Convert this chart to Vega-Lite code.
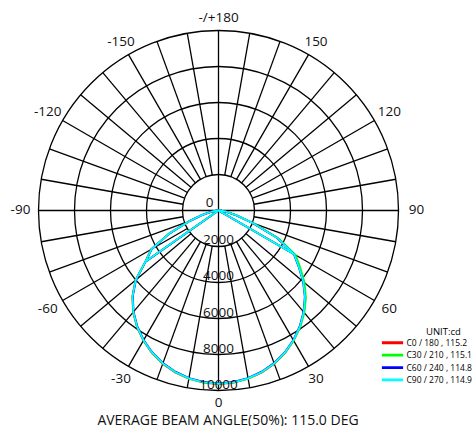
{
  "$schema": "https://vega.github.io/schema/vega-lite/v6.json",
  "width": 474,
  "height": 426,
  "padding": 0,
  "autosize": {"type": "none"},
  "config": {"view": {"stroke": null}, "font": "Open Sans"},
  "title": {"text": "AVERAGE BEAM ANGLE(50%): 115.0 DEG", "orient": "bottom", "anchor": "middle", "frame": "group", "offset": -12, "fontSize": 14, "fontWeight": "normal", "color": "#111", "font": "Open Sans", "dx": -9},
  "datasets": {
    "curves": [
      {"s":"C0 / 180 , 115.2","o":0,"g":-55,"i":4970},{"s":"C0 / 180 , 115.2","o":1,"g":-90,"i":0},{"s":"C0 / 180 , 115.2","o":2,"g":-85,"i":160},{"s":"C0 / 180 , 115.2","o":3,"g":-80,"i":410},{"s":"C0 / 180 , 115.2","o":4,"g":-75,"i":920},{"s":"C0 / 180 , 115.2","o":5,"g":-70,"i":1720},{"s":"C0 / 180 , 115.2","o":6,"g":-65,"i":3030},{"s":"C0 / 180 , 115.2","o":7,"g":-60,"i":4320},{"s":"C0 / 180 , 115.2","o":8,"g":-55,"i":4970},{"s":"C0 / 180 , 115.2","o":9,"g":-50,"i":6020},{"s":"C0 / 180 , 115.2","o":10,"g":-45,"i":6770},{"s":"C0 / 180 , 115.2","o":11,"g":-40,"i":7380},{"s":"C0 / 180 , 115.2","o":12,"g":-35,"i":7900},{"s":"C0 / 180 , 115.2","o":13,"g":-30,"i":8350},{"s":"C0 / 180 , 115.2","o":14,"g":-25,"i":8740},{"s":"C0 / 180 , 115.2","o":15,"g":-20,"i":9060},{"s":"C0 / 180 , 115.2","o":16,"g":-15,"i":9310},{"s":"C0 / 180 , 115.2","o":17,"g":-10,"i":9490},{"s":"C0 / 180 , 115.2","o":18,"g":-5,"i":9600},{"s":"C0 / 180 , 115.2","o":19,"g":0,"i":9640},{"s":"C0 / 180 , 115.2","o":20,"g":5,"i":9600},{"s":"C0 / 180 , 115.2","o":21,"g":10,"i":9490},{"s":"C0 / 180 , 115.2","o":22,"g":15,"i":9310},{"s":"C0 / 180 , 115.2","o":23,"g":20,"i":9060},{"s":"C0 / 180 , 115.2","o":24,"g":25,"i":8740},{"s":"C0 / 180 , 115.2","o":25,"g":30,"i":8350},{"s":"C0 / 180 , 115.2","o":26,"g":35,"i":7900},{"s":"C0 / 180 , 115.2","o":27,"g":40,"i":7390},{"s":"C0 / 180 , 115.2","o":28,"g":45,"i":6820},{"s":"C0 / 180 , 115.2","o":29,"g":50,"i":6170},{"s":"C0 / 180 , 115.2","o":30,"g":55,"i":5470},{"s":"C0 / 180 , 115.2","o":31,"g":60,"i":4870},{"s":"C0 / 180 , 115.2","o":32,"g":65,"i":3620},{"s":"C0 / 180 , 115.2","o":33,"g":70,"i":2020},{"s":"C0 / 180 , 115.2","o":34,"g":75,"i":1010},{"s":"C0 / 180 , 115.2","o":35,"g":80,"i":460},{"s":"C0 / 180 , 115.2","o":36,"g":85,"i":160},{"s":"C0 / 180 , 115.2","o":37,"g":90,"i":0},{"s":"C0 / 180 , 115.2","o":38,"g":60,"i":4870},
      {"s":"C30 / 210 , 115.1","o":0,"g":-55,"i":4960},{"s":"C30 / 210 , 115.1","o":1,"g":-90,"i":0},{"s":"C30 / 210 , 115.1","o":2,"g":-85,"i":150},{"s":"C30 / 210 , 115.1","o":3,"g":-80,"i":400},{"s":"C30 / 210 , 115.1","o":4,"g":-75,"i":910},{"s":"C30 / 210 , 115.1","o":5,"g":-70,"i":1710},{"s":"C30 / 210 , 115.1","o":6,"g":-65,"i":3010},{"s":"C30 / 210 , 115.1","o":7,"g":-60,"i":4310},{"s":"C30 / 210 , 115.1","o":8,"g":-55,"i":4960},{"s":"C30 / 210 , 115.1","o":9,"g":-50,"i":6010},{"s":"C30 / 210 , 115.1","o":10,"g":-45,"i":6760},{"s":"C30 / 210 , 115.1","o":11,"g":-40,"i":7370},{"s":"C30 / 210 , 115.1","o":12,"g":-35,"i":7890},{"s":"C30 / 210 , 115.1","o":13,"g":-30,"i":8340},{"s":"C30 / 210 , 115.1","o":14,"g":-25,"i":8730},{"s":"C30 / 210 , 115.1","o":15,"g":-20,"i":9050},{"s":"C30 / 210 , 115.1","o":16,"g":-15,"i":9300},{"s":"C30 / 210 , 115.1","o":17,"g":-10,"i":9480},{"s":"C30 / 210 , 115.1","o":18,"g":-5,"i":9590},{"s":"C30 / 210 , 115.1","o":19,"g":0,"i":9630},{"s":"C30 / 210 , 115.1","o":20,"g":5,"i":9590},{"s":"C30 / 210 , 115.1","o":21,"g":10,"i":9480},{"s":"C30 / 210 , 115.1","o":22,"g":15,"i":9300},{"s":"C30 / 210 , 115.1","o":23,"g":20,"i":9050},{"s":"C30 / 210 , 115.1","o":24,"g":25,"i":8730},{"s":"C30 / 210 , 115.1","o":25,"g":30,"i":8350},{"s":"C30 / 210 , 115.1","o":26,"g":35,"i":7910},{"s":"C30 / 210 , 115.1","o":27,"g":40,"i":7420},{"s":"C30 / 210 , 115.1","o":28,"g":45,"i":6870},{"s":"C30 / 210 , 115.1","o":29,"g":50,"i":6240},{"s":"C30 / 210 , 115.1","o":30,"g":55,"i":5550},{"s":"C30 / 210 , 115.1","o":31,"g":60,"i":4950},{"s":"C30 / 210 , 115.1","o":32,"g":65,"i":3700},{"s":"C30 / 210 , 115.1","o":33,"g":70,"i":2080},{"s":"C30 / 210 , 115.1","o":34,"g":75,"i":1040},{"s":"C30 / 210 , 115.1","o":35,"g":80,"i":470},{"s":"C30 / 210 , 115.1","o":36,"g":85,"i":160},{"s":"C30 / 210 , 115.1","o":37,"g":90,"i":0},{"s":"C30 / 210 , 115.1","o":38,"g":60,"i":4950},
      {"s":"C60 / 240 , 114.8","o":0,"g":-55,"i":4930},{"s":"C60 / 240 , 114.8","o":1,"g":-90,"i":0},{"s":"C60 / 240 , 114.8","o":2,"g":-85,"i":140},{"s":"C60 / 240 , 114.8","o":3,"g":-80,"i":390},{"s":"C60 / 240 , 114.8","o":4,"g":-75,"i":890},{"s":"C60 / 240 , 114.8","o":5,"g":-70,"i":1680},{"s":"C60 / 240 , 114.8","o":6,"g":-65,"i":2980},{"s":"C60 / 240 , 114.8","o":7,"g":-60,"i":4280},{"s":"C60 / 240 , 114.8","o":8,"g":-55,"i":4930},{"s":"C60 / 240 , 114.8","o":9,"g":-50,"i":5980},{"s":"C60 / 240 , 114.8","o":10,"g":-45,"i":6730},{"s":"C60 / 240 , 114.8","o":11,"g":-40,"i":7340},{"s":"C60 / 240 , 114.8","o":12,"g":-35,"i":7860},{"s":"C60 / 240 , 114.8","o":13,"g":-30,"i":8310},{"s":"C60 / 240 , 114.8","o":14,"g":-25,"i":8700},{"s":"C60 / 240 , 114.8","o":15,"g":-20,"i":9020},{"s":"C60 / 240 , 114.8","o":16,"g":-15,"i":9270},{"s":"C60 / 240 , 114.8","o":17,"g":-10,"i":9450},{"s":"C60 / 240 , 114.8","o":18,"g":-5,"i":9560},{"s":"C60 / 240 , 114.8","o":19,"g":0,"i":9600},{"s":"C60 / 240 , 114.8","o":20,"g":5,"i":9560},{"s":"C60 / 240 , 114.8","o":21,"g":10,"i":9450},{"s":"C60 / 240 , 114.8","o":22,"g":15,"i":9270},{"s":"C60 / 240 , 114.8","o":23,"g":20,"i":9020},{"s":"C60 / 240 , 114.8","o":24,"g":25,"i":8700},{"s":"C60 / 240 , 114.8","o":25,"g":30,"i":8310},{"s":"C60 / 240 , 114.8","o":26,"g":35,"i":7860},{"s":"C60 / 240 , 114.8","o":27,"g":40,"i":7350},{"s":"C60 / 240 , 114.8","o":28,"g":45,"i":6780},{"s":"C60 / 240 , 114.8","o":29,"g":50,"i":6130},{"s":"C60 / 240 , 114.8","o":30,"g":55,"i":5430},{"s":"C60 / 240 , 114.8","o":31,"g":60,"i":4830},{"s":"C60 / 240 , 114.8","o":32,"g":65,"i":3580},{"s":"C60 / 240 , 114.8","o":33,"g":70,"i":1980},{"s":"C60 / 240 , 114.8","o":34,"g":75,"i":990},{"s":"C60 / 240 , 114.8","o":35,"g":80,"i":440},{"s":"C60 / 240 , 114.8","o":36,"g":85,"i":140},{"s":"C60 / 240 , 114.8","o":37,"g":90,"i":0},{"s":"C60 / 240 , 114.8","o":38,"g":60,"i":4830},
      {"s":"C90 / 270 , 114.9","o":0,"g":-55,"i":4950},{"s":"C90 / 270 , 114.9","o":1,"g":-90,"i":0},{"s":"C90 / 270 , 114.9","o":2,"g":-85,"i":150},{"s":"C90 / 270 , 114.9","o":3,"g":-80,"i":400},{"s":"C90 / 270 , 114.9","o":4,"g":-75,"i":900},{"s":"C90 / 270 , 114.9","o":5,"g":-70,"i":1700},{"s":"C90 / 270 , 114.9","o":6,"g":-65,"i":3000},{"s":"C90 / 270 , 114.9","o":7,"g":-60,"i":4300},{"s":"C90 / 270 , 114.9","o":8,"g":-55,"i":4950},{"s":"C90 / 270 , 114.9","o":9,"g":-50,"i":6000},{"s":"C90 / 270 , 114.9","o":10,"g":-45,"i":6750},{"s":"C90 / 270 , 114.9","o":11,"g":-40,"i":7360},{"s":"C90 / 270 , 114.9","o":12,"g":-35,"i":7880},{"s":"C90 / 270 , 114.9","o":13,"g":-30,"i":8330},{"s":"C90 / 270 , 114.9","o":14,"g":-25,"i":8720},{"s":"C90 / 270 , 114.9","o":15,"g":-20,"i":9040},{"s":"C90 / 270 , 114.9","o":16,"g":-15,"i":9290},{"s":"C90 / 270 , 114.9","o":17,"g":-10,"i":9470},{"s":"C90 / 270 , 114.9","o":18,"g":-5,"i":9580},{"s":"C90 / 270 , 114.9","o":19,"g":0,"i":9620},{"s":"C90 / 270 , 114.9","o":20,"g":5,"i":9580},{"s":"C90 / 270 , 114.9","o":21,"g":10,"i":9470},{"s":"C90 / 270 , 114.9","o":22,"g":15,"i":9290},{"s":"C90 / 270 , 114.9","o":23,"g":20,"i":9040},{"s":"C90 / 270 , 114.9","o":24,"g":25,"i":8720},{"s":"C90 / 270 , 114.9","o":25,"g":30,"i":8330},{"s":"C90 / 270 , 114.9","o":26,"g":35,"i":7880},{"s":"C90 / 270 , 114.9","o":27,"g":40,"i":7370},{"s":"C90 / 270 , 114.9","o":28,"g":45,"i":6800},{"s":"C90 / 270 , 114.9","o":29,"g":50,"i":6150},{"s":"C90 / 270 , 114.9","o":30,"g":55,"i":5450},{"s":"C90 / 270 , 114.9","o":31,"g":60,"i":4850},{"s":"C90 / 270 , 114.9","o":32,"g":65,"i":3600},{"s":"C90 / 270 , 114.9","o":33,"g":70,"i":2000},{"s":"C90 / 270 , 114.9","o":34,"g":75,"i":1000},{"s":"C90 / 270 , 114.9","o":35,"g":80,"i":450},{"s":"C90 / 270 , 114.9","o":36,"g":85,"i":150},{"s":"C90 / 270 , 114.9","o":37,"g":90,"i":0},{"s":"C90 / 270 , 114.9","o":38,"g":60,"i":4850}
    ],
    "rings": [{"r":2000},{"r":4000},{"r":6000},{"r":8000},{"r":10000}],
    "spokes": [
      {"a":0,"r0":0,"r1":10000},{"a":10,"r0":2000,"r1":10000},{"a":20,"r0":2000,"r1":10000},{"a":30,"r0":2000,"r1":10000},{"a":40,"r0":2000,"r1":10000},{"a":50,"r0":2000,"r1":10000},{"a":60,"r0":2000,"r1":10000},{"a":70,"r0":2000,"r1":10000},{"a":80,"r0":2000,"r1":10000},
      {"a":90,"r0":0,"r1":10000},{"a":100,"r0":2000,"r1":10000},{"a":110,"r0":2000,"r1":10000},{"a":120,"r0":2000,"r1":10000},{"a":130,"r0":2000,"r1":10000},{"a":140,"r0":2000,"r1":10000},{"a":150,"r0":2000,"r1":10000},{"a":160,"r0":2000,"r1":10000},{"a":170,"r0":2000,"r1":10000},
      {"a":180,"r0":0,"r1":10000},{"a":190,"r0":2000,"r1":10000},{"a":200,"r0":2000,"r1":10000},{"a":210,"r0":2000,"r1":10000},{"a":220,"r0":2000,"r1":10000},{"a":230,"r0":2000,"r1":10000},{"a":240,"r0":2000,"r1":10000},{"a":250,"r0":2000,"r1":10000},{"a":260,"r0":2000,"r1":10000},
      {"a":270,"r0":0,"r1":10000},{"a":280,"r0":2000,"r1":10000},{"a":290,"r0":2000,"r1":10000},{"a":300,"r0":2000,"r1":10000},{"a":310,"r0":2000,"r1":10000},{"a":320,"r0":2000,"r1":10000},{"a":330,"r0":2000,"r1":10000},{"a":340,"r0":2000,"r1":10000},{"a":350,"r0":2000,"r1":10000}
    ],
    "angleLabels": [
      {"a":0,"t":"0"},{"a":30,"t":"30"},{"a":60,"t":"60"},{"a":90,"t":"90"},{"a":120,"t":"120"},{"a":150,"t":"150"},{"a":180,"t":"-/+180"},{"a":-150,"t":"-150"},{"a":-120,"t":"-120"},{"a":-90,"t":"-90"},{"a":-60,"t":"-60"},{"a":-30,"t":"-30"}
    ],
    "ringLabels": [{"v":2000,"t":"2000"},{"v":4000,"t":"4000"},{"v":6000,"t":"6000"},{"v":8000,"t":"8000"},{"v":10000,"t":"10000"}]
  },
  "layer": [
    {
      "data": {"name": "rings"},
      "mark": {"type": "arc", "filled": false, "stroke": "#000000", "strokeWidth": 1.3, "theta": 0, "theta2": 6.2832},
      "encoding": {
        "x": {"datum": 0, "type": "quantitative", "scale": {"domain": [-12139, 14194], "nice": false, "zero": false}, "axis": null},
        "y": {"datum": 0, "type": "quantitative", "scale": {"domain": [-11972, 11694], "nice": false, "zero": false}, "axis": null},
        "radius": {"field": "r", "type": "quantitative", "stack": null, "scale": {"type": "linear", "domain": [0, 10000], "range": [0, 180], "zero": true}, "legend": null}
      }
    },
    {
      "data": {"name": "spokes"},
      "transform": [
        {"calculate": "datum.r0*sin(datum.a*PI/180)", "as": "px"},
        {"calculate": "-datum.r0*cos(datum.a*PI/180)", "as": "py"},
        {"calculate": "datum.r1*sin(datum.a*PI/180)", "as": "px2"},
        {"calculate": "-datum.r1*cos(datum.a*PI/180)", "as": "py2"}
      ],
      "mark": {"type": "rule", "stroke": "#000000", "strokeWidth": 1.3},
      "encoding": {
        "x": {"field": "px", "type": "quantitative", "scale": {"domain": [-12139, 14194], "nice": false, "zero": false}, "axis": null},
        "y": {"field": "py", "type": "quantitative", "scale": {"domain": [-11972, 11694], "nice": false, "zero": false}, "axis": null},
        "x2": {"field": "px2"},
        "y2": {"field": "py2"}
      }
    },
    {
      "data": {"name": "curves"},
      "transform": [
        {"calculate": "datum.i*sin(datum.g*PI/180)", "as": "px"},
        {"calculate": "-datum.i*cos(datum.g*PI/180)", "as": "py"}
      ],
      "mark": {"type": "line", "strokeWidth": 1.8},
      "encoding": {
        "x": {"field": "px", "type": "quantitative", "scale": {"domain": [-12139, 14194], "nice": false, "zero": false}, "axis": null},
        "y": {"field": "py", "type": "quantitative", "scale": {"domain": [-11972, 11694], "nice": false, "zero": false}, "axis": null},
        "order": {"field": "o", "type": "quantitative"},
        "color": {
          "field": "s", "type": "nominal",
          "scale": {"domain": ["C0 / 180 , 115.2", "C30 / 210 , 115.1", "C60 / 240 , 114.8", "C90 / 270 , 114.9"], "range": ["#ff0000", "#00ff00", "#0000ff", "#00ffff"]},
          "legend": {"orient": "none", "legendX": 380, "legendY": 327, "title": "UNIT:cd", "titleFontSize": 9.5, "titleFontWeight": "normal", "titleColor": "#000000", "titleFont": "Open Sans", "titleAnchor": "middle", "titleAlign": "left", "titlePadding": 1.5, "symbolType": "stroke", "symbolSize": 450, "symbolStrokeWidth": 2.8, "clipHeight": 9.5, "labelFontSize": 8.5, "labelFont": "Open Sans", "labelColor": "#000000", "labelOffset": 1.5, "rowPadding": 2.4, "padding": 0, "labelLimit": 200}
        }
      }
    },
    {
      "data": {"name": "angleLabels"},
      "transform": [
        {"calculate": "(10667 + 333*abs(sin(datum.a*PI/180)))*sin(datum.a*PI/180)", "as": "px"},
        {"calculate": "-(10667 + 333*abs(sin(datum.a*PI/180)))*cos(datum.a*PI/180)", "as": "py"}
      ],
      "mark": {"type": "text", "align": "center", "baseline": "middle", "fontSize": 13.5, "font": "Open Sans", "color": "#111111"},
      "encoding": {
        "x": {"field": "px", "type": "quantitative", "scale": {"domain": [-12139, 14194], "nice": false, "zero": false}, "axis": null},
        "y": {"field": "py", "type": "quantitative", "scale": {"domain": [-11972, 11694], "nice": false, "zero": false}, "axis": null},
        "text": {"field": "t"}
      }
    },
    {
      "data": {"name": "ringLabels"},
      "transform": [
        {"calculate": "0*datum.v", "as": "px"},
        {"calculate": "-datum.v", "as": "py"}
      ],
      "mark": {"type": "text", "align": "center", "baseline": "alphabetic", "dy": -2, "fontSize": 13.5, "font": "Open Sans", "color": "#111111"},
      "encoding": {
        "x": {"field": "px", "type": "quantitative", "scale": {"domain": [-12139, 14194], "nice": false, "zero": false}, "axis": null},
        "y": {"field": "py", "type": "quantitative", "scale": {"domain": [-11972, 11694], "nice": false, "zero": false}, "axis": null},
        "text": {"field": "t"}
      }
    },
    {
      "data": {"values": [{"v": 0, "t": "0"}]},
      "mark": {"type": "text", "align": "center", "baseline": "alphabetic", "dx": -9, "dy": -3, "fontSize": 13.5, "font": "Open Sans", "color": "#111111"},
      "encoding": {
        "x": {"field": "v", "type": "quantitative", "scale": {"domain": [-12139, 14194], "nice": false, "zero": false}, "axis": null},
        "y": {"field": "v", "type": "quantitative", "scale": {"domain": [-11972, 11694], "nice": false, "zero": false}, "axis": null},
        "text": {"field": "t"}
      }
    }
  ]
}
